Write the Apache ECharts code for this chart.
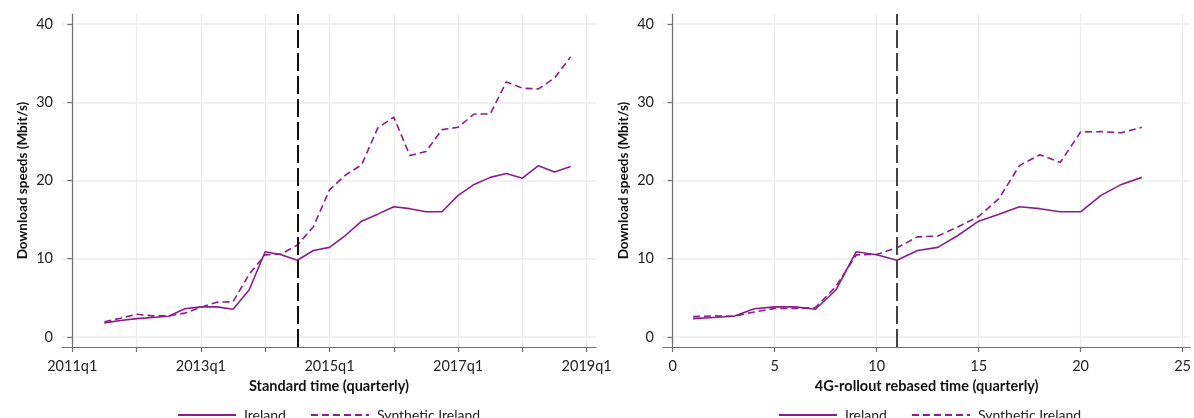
<!DOCTYPE html>
<html>
<head>
<meta charset="utf-8">
<title>Download speeds: Ireland vs Synthetic Ireland</title>
<script src="https://cdn.jsdelivr.net/npm/echarts@6/dist/echarts.min.js"></script>
<style>
  html, body { margin: 0; padding: 0; background: #fff; }
  #chart { width: 1194px; height: 418px; }
</style>
</head>
<body>
<div id="chart"></div>
<script>
// ---- Data ----------------------------------------------------------------
// Standard time panel: quarters 2011q3 .. 2018q4
const standardPeriods = [
  '2011q3','2011q4','2012q1','2012q2','2012q3','2012q4',
  '2013q1','2013q2','2013q3','2013q4','2014q1','2014q2',
  '2014q3','2014q4','2015q1','2015q2','2015q3','2015q4',
  '2016q1','2016q2','2016q3','2016q4','2017q1','2017q2',
  '2017q3','2017q4','2018q1','2018q2','2018q3','2018q4'
];
const irelandStandard = [
  1.8, 2.1, 2.35, 2.5, 2.65, 3.6,
  3.85, 3.85, 3.55, 6.0, 10.9, 10.5,
  9.8, 11.05, 11.45, 13.0, 14.8, 15.7,
  16.65, 16.4, 16.0, 16.0, 18.1, 19.5,
  20.4, 20.9, 20.3, 21.9, 21.1, 21.8
];
const syntheticStandard = [
  1.95, 2.4, 2.9, 2.7, 2.7, 3.05,
  3.8, 4.45, 4.5, 8.0, 10.5, 10.6,
  11.75, 14.1, 18.8, 20.7, 22.0, 26.7,
  28.1, 23.2, 23.7, 26.5, 26.8, 28.5,
  28.5, 32.6, 31.8, 31.7, 33.1, 35.8
];
const standardTreatment = '2014q3';
const standardTickPeriods = ['2011q1','2012q1','2013q1','2014q1','2015q1','2016q1','2017q1','2018q1','2019q1'];
const standardLabelPeriods = ['2011q1','2013q1','2015q1','2017q1','2019q1'];

// 4G-rollout rebased panel
const rebasedTime = [1,2,3,4,5,6,7,8,9,10,11,12,13,14,15,16,17,18,19,20,21,22,23];
const irelandRebased = [
  2.35, 2.5, 2.65, 3.6, 3.85, 3.85, 3.55, 6.0, 10.9, 10.5, 9.8, 11.05,
  11.45, 13.0, 14.8, 15.7, 16.65, 16.4, 16.0, 16.0, 18.1, 19.5, 20.4
];
const syntheticRebased = [
  2.6, 2.7, 2.65, 3.2, 3.65, 3.65, 3.75, 6.45, 10.5, 10.55, 11.4, 12.8,
  12.9, 14.1, 15.4, 17.7, 21.9, 23.3, 22.3, 26.2, 26.25, 26.1, 26.8
];
const rebasedTreatment = 11;
const rebasedTicks = [0, 5, 10, 15, 20, 25];

const speedTicks = [0, 10, 20, 30, 40];

// ---- Helpers -------------------------------------------------------------
// quarter string -> number of quarters since 2011q1
const BASE_YEAR = 2011;
function qIndex(p) {
  const [y, q] = p.split('q').map(Number);
  return (y - BASE_YEAR) * 4 + (q - 1);
}
function qLabel(i) {
  const idx = Math.round(i);
  return (BASE_YEAR + Math.floor(idx / 4)) + 'q' + ((idx % 4) + 1);
}

const PURPLE = '#8c1c8c';
const FONT = 'Lato, "Open Sans", sans-serif';
const AXIS_COLOR = '#6e6e6e';
const GRID_COLOR = '#ebebeb';
const TEXT_COLOR = '#222';

const standardIreland = standardPeriods.map((p, i) => [qIndex(p), irelandStandard[i]]);
const standardSynthetic = standardPeriods.map((p, i) => [qIndex(p), syntheticStandard[i]]);
const rebasedIreland = rebasedTime.map((t, i) => [t, irelandRebased[i]]);
const rebasedSynthetic = rebasedTime.map((t, i) => [t, syntheticRebased[i]]);

function yAxis(gridIndex) {
  return {
    type: 'value', gridIndex,
    min: -1.28, max: 41.28,
    name: 'Download speeds (Mbit/s)',
    nameLocation: 'middle', nameGap: 32, nameRotate: 90,
    nameTextStyle: { fontFamily: FONT, fontWeight: 'bold', fontSize: 13.5, color: '#111' },
    axisLine: { show: true, lineStyle: { color: AXIS_COLOR, width: 1.2 } },
    axisTick: { show: true, length: 5, customValues: speedTicks, lineStyle: { color: AXIS_COLOR, width: 1.2 } },
    axisLabel: { customValues: speedTicks, margin: 9, fontFamily: FONT, fontSize: 14.5, color: TEXT_COLOR },
    splitLine: { show: true, lineStyle: { color: GRID_COLOR, width: 1.5 } }
  };
}

function xAxisCommon(gridIndex, name) {
  return {
    type: 'value', gridIndex,
    name,
    nameLocation: 'middle', nameGap: 25,
    nameTextStyle: { fontFamily: FONT, fontWeight: 'bold', fontSize: 14.5, color: '#111' },
    axisLine: { show: true, onZero: false, lineStyle: { color: AXIS_COLOR, width: 1.2 } },
    axisTick: { show: true, length: 5, lineStyle: { color: AXIS_COLOR, width: 1.2 } },
    axisLabel: { margin: 12, fontFamily: FONT, fontSize: 14.5, color: TEXT_COLOR },
    splitLine: { show: true, lineStyle: { color: GRID_COLOR, width: 1.2 } }
  };
}

const xStandard = xAxisCommon(0, 'Standard time (quarterly)');
xStandard.min = -0.64;
xStandard.max = 32.58;
xStandard.axisTick.customValues = standardTickPeriods.map(qIndex);
xStandard.axisLabel.customValues = standardLabelPeriods.map(qIndex);
xStandard.axisLabel.formatter = v => qLabel(v);

const xRebased = xAxisCommon(1, '4G-rollout rebased time (quarterly)');
xRebased.min = -0.475;
xRebased.max = 25.38;
xRebased.axisTick.customValues = rebasedTicks;
xRebased.axisLabel.customValues = rebasedTicks;

function treatmentLine(x, color) {
  return {
    silent: true, symbol: 'none', animation: false,
    label: { show: false },
    lineStyle: { color, width: 2, type: [18, 5] },
    data: [{ xAxis: x }]
  };
}

function lineSeries(name, data, axisIdx, dashed, mark) {
  const s = {
    name, type: 'line', data,
    xAxisIndex: axisIdx, yAxisIndex: axisIdx,
    showSymbol: false, symbol: 'none',
    lineStyle: { color: PURPLE, width: 1.6, type: dashed ? [7, 4] : 'solid' },
    itemStyle: { color: PURPLE },
    z: 3
  };
  if (mark) s.markLine = mark;
  return s;
}

// legend keys are plain line samples (no point marker)
const legendCommon = {
  orient: 'horizontal', top: 403,
  itemWidth: 58, itemHeight: 14, itemGap: 24,
  itemStyle: { opacity: 0 },
  textStyle: { fontFamily: FONT, fontSize: 14, color: TEXT_COLOR, padding: [0, 0, 0, 3] },
  data: ['Ireland', 'Synthetic Ireland'],
  selectedMode: false
};

const option = {
  animation: false,
  backgroundColor: '#fff',
  grid: [
    { left: 62, top: 14, width: 534, height: 333, containLabel: false },
    { left: 663, top: 14, width: 534, height: 333, containLabel: false }
  ],
  xAxis: [xStandard, xRebased],
  yAxis: [yAxis(0), yAxis(1)],
  legend: [
    Object.assign({}, legendCommon, { left: 172 }),
    Object.assign({}, legendCommon, { left: 773 })
  ],
  series: [
    lineSeries('Ireland', standardIreland, 0, false, treatmentLine(qIndex(standardTreatment), '#111')),
    lineSeries('Synthetic Ireland', standardSynthetic, 0, true),
    lineSeries('Ireland', rebasedIreland, 1, false, treatmentLine(rebasedTreatment, '#444')),
    lineSeries('Synthetic Ireland', rebasedSynthetic, 1, true)
  ]
};

const chart = echarts.init(document.getElementById('chart'), null, { renderer: 'canvas' });
chart.setOption(option);
</script>
</body>
</html>
